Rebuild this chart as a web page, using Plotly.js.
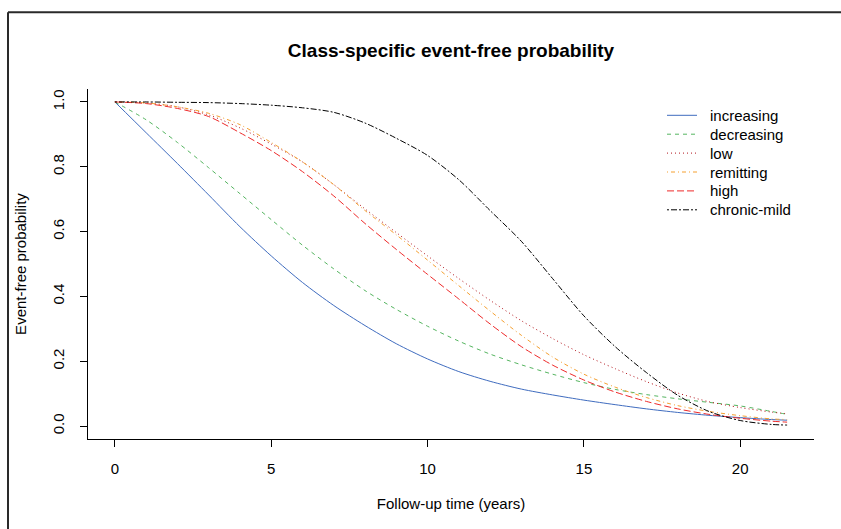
<!DOCTYPE html>
<html>
<head>
<meta charset="utf-8">
<script src="https://cdn.plot.ly/plotly-3.0.1.min.js"></script>
<style>
html, body { margin: 0; padding: 0; background: #ffffff; }
#chart { width: 841px; height: 529px; }
</style>
</head>
<body>
<div id="chart"></div>
<script>
// Follow-up time (years)
var years = [0, 1, 2, 3, 4, 5, 6, 7, 8, 9, 10, 11, 12, 13, 14, 15, 16, 17, 18, 19, 20, 21, 21.5];

// Class-specific event-free probability
var increasing  = [1.000, 0.905, 0.810, 0.713, 0.615, 0.525, 0.443, 0.372, 0.310, 0.254, 0.207, 0.168, 0.138, 0.114, 0.096, 0.080, 0.066, 0.053, 0.042, 0.033, 0.026, 0.020, 0.018];
var decreasing  = [1.000, 0.945, 0.875, 0.797, 0.717, 0.637, 0.558, 0.485, 0.418, 0.360, 0.308, 0.262, 0.222, 0.189, 0.160, 0.134, 0.113, 0.097, 0.084, 0.073, 0.062, 0.045, 0.036];
var low         = [1.000, 0.997, 0.985, 0.960, 0.920, 0.870, 0.815, 0.745, 0.670, 0.597, 0.525, 0.455, 0.388, 0.325, 0.270, 0.220, 0.177, 0.137, 0.102, 0.075, 0.057, 0.043, 0.038];
var remitting   = [1.000, 0.997, 0.985, 0.965, 0.930, 0.875, 0.815, 0.745, 0.665, 0.590, 0.512, 0.433, 0.355, 0.280, 0.213, 0.160, 0.120, 0.088, 0.063, 0.045, 0.032, 0.022, 0.020];
var high        = [1.000, 0.995, 0.980, 0.955, 0.905, 0.850, 0.785, 0.710, 0.625, 0.545, 0.468, 0.392, 0.315, 0.245, 0.188, 0.142, 0.105, 0.076, 0.053, 0.036, 0.024, 0.015, 0.012];
var chronicMild = [1.000, 1.000, 0.999, 0.998, 0.995, 0.990, 0.982, 0.968, 0.935, 0.888, 0.835, 0.760, 0.665, 0.570, 0.455, 0.340, 0.245, 0.165, 0.095, 0.045, 0.017, 0.005, 0.003];

var classNames = ["increasing", "decreasing", "low", "remitting", "high", "chronic-mild"];
var xTicks = [0, 5, 10, 15, 20];
var yTicks = [0.0, 0.2, 0.4, 0.6, 0.8, 1.0];
var yTickText = ["0.0", "0.2", "0.4", "0.6", "0.8", "1.0"];

var series = [increasing, decreasing, low, remitting, high, chronicMild];
var styles = [
  {color: "#3f6cbf", dash: "solid"},
  {color: "#55b560", dash: "4px,4px"},
  {color: "#b3141c", dash: "1px,3px"},
  {color: "#f5a030", dash: "1px,3px,4px,3px"},
  {color: "#ee2a2a", dash: "7px,3px"},
  {color: "#000000", dash: "2px,2px,6px,2px"}
];

var traces = series.map(function (ys, i) {
  return {
    x: years, y: ys, name: classNames[i], type: "scatter", mode: "lines",
    line: {color: styles[i].color, width: 1, dash: styles[i].dash, shape: "spline", smoothing: 0.8},
    hoverinfo: "skip", showlegend: false
  };
});

var L = 88, R = 814, T = 88.7, B = 438.7;
var W = R - L, H = B - T;
function px(x) { return (x - L) / W; }
function py(y) { return (B - y) / H; }

// Legend (R-style, no box)
var legendShapes = [], legendNotes = [];
classNames.forEach(function (name, i) {
  var rowY = py(115 + i * 18.9);
  legendShapes.push({type: "line", xref: "paper", yref: "paper", x0: px(667), x1: px(697), y0: rowY, y1: rowY,
    line: {color: styles[i].color, width: 1, dash: styles[i].dash}});
  legendNotes.push({xref: "paper", yref: "paper", x: px(708), y: rowY, xanchor: "left", yanchor: "middle",
    text: name, showarrow: false, font: {size: 15, color: "#000000"}});
});

var frameShapes = [
  {type: "line", xref: "paper", yref: "paper", x0: px(8), x1: px(8), y0: py(12), y1: py(540), line: {color: "#2a2a2a", width: 2}},
  {type: "line", xref: "paper", yref: "paper", x0: px(8), x1: px(850), y0: py(12), y1: py(12), line: {color: "#2a2a2a", width: 2}}
];

var layout = {
  width: 841, height: 529,
  margin: {l: L, r: 841 - R, t: T, b: 529 - B, pad: 0},
  paper_bgcolor: "#ffffff", plot_bgcolor: "#ffffff",
  font: {family: "Liberation Sans, Arial, sans-serif", color: "#000000", size: 15},
  title: {
    text: "<b>Class-specific event-free probability</b>",
    font: {size: 19, color: "#000000", family: "Liberation Sans, Arial, sans-serif"},
    x: px(451), xref: "paper", xanchor: "center",
    y: 1 - 50 / 529, yref: "container", yanchor: "middle"
  },
  xaxis: {
    range: [-0.86, 22.36], tickvals: xTicks, ticktext: xTicks.map(String),
    showgrid: false, zeroline: false, showline: true, linecolor: "#000", linewidth: 1,
    ticks: "outside", ticklen: 7, tickcolor: "#000", tickwidth: 1,
    tickfont: {size: 15}, ticklabelstandoff: 9,
    title: {text: "Follow-up time (years)", font: {size: 15}, standoff: 22}
  },
  yaxis: {
    range: [-0.04, 1.04], tickvals: yTicks, ticktext: yTickText, tickangle: -90,
    showgrid: false, zeroline: false, showline: true, linecolor: "#000", linewidth: 1,
    ticks: "outside", ticklen: 7, tickcolor: "#000", tickwidth: 1,
    tickfont: {size: 15}, ticklabelstandoff: 10,
    title: {text: "Event-free probability", font: {size: 15}, standoff: 19}
  },
  showlegend: false,
  shapes: frameShapes.concat(legendShapes),
  annotations: legendNotes
};

Plotly.newPlot("chart", traces, layout, {displayModeBar: false, staticPlot: true});
</script>
</body>
</html>
